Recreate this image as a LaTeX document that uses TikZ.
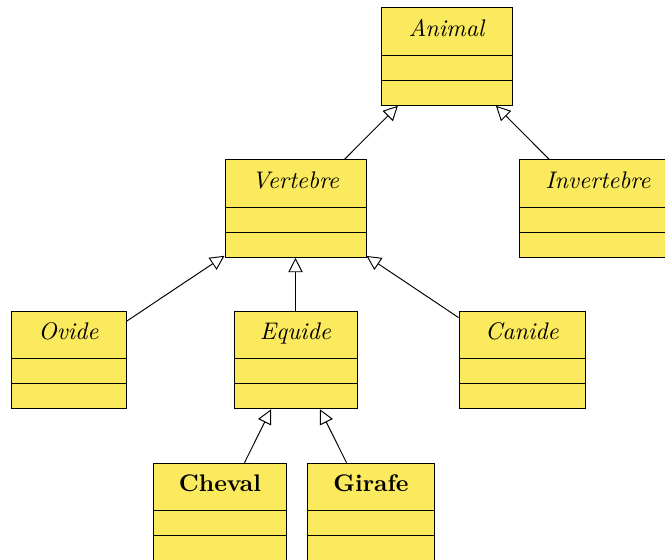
\documentclass[tikz,border=0pt]{standalone}
\usepackage{tikz}
\usetikzlibrary{shapes.multipart,arrows.meta}

\definecolor{classfill}{RGB}{252,234,94}
\newcommand{\classname}[1]{\rule[-7.8pt]{0pt}{19.5pt}#1}
\newcommand{\emptypart}{\rule{0pt}{10pt}}
\tikzset{
  umlclass/.style={draw, fill=classfill, rectangle split, rectangle split parts=3,
    inner xsep=0pt, inner ysep=0pt},
  inherit/.style={draw, -{Triangle[open,length=6pt,width=6pt]}}
}

\begin{document}
\begin{tikzpicture}[x=0.41667pt,y=-0.41667pt]
\useasboundingbox (0,0) rectangle (665,559);

\node[umlclass, minimum width=54.2pt] (animal) at (447,56.5)
  {\classname{\textit{Animal}} \nodepart{second}\emptypart \nodepart{third}\emptypart};
\node[umlclass, minimum width=58.75pt] (vertebre) at (295.5,208.5)
  {\classname{\textit{Vertebre}} \nodepart{second}\emptypart \nodepart{third}\emptypart};
\node[umlclass, minimum width=65.8pt] (invertebre) at (598,208.5)
  {\classname{\textit{Invertebre}} \nodepart{second}\emptypart \nodepart{third}\emptypart};
\node[umlclass, minimum width=47.9pt] (ovide) at (68.5,360)
  {\classname{\textit{Ovide}} \nodepart{second}\emptypart \nodepart{third}\emptypart};
\node[umlclass, minimum width=51.25pt] (equide) at (295.5,360)
  {\classname{\textit{Equide}} \nodepart{second}\emptypart \nodepart{third}\emptypart};
\node[umlclass, minimum width=52.5pt] (canide) at (522,360)
  {\classname{\textit{Canide}} \nodepart{second}\emptypart \nodepart{third}\emptypart};
\node[umlclass, minimum width=55.8pt] (cheval) at (220,512)
  {\classname{\textbf{Cheval}} \nodepart{second}\emptypart \nodepart{third}\emptypart};
\node[umlclass, minimum width=53.3pt] (girafe) at (371,512)
  {\classname{\textbf{Girafe}} \nodepart{second}\emptypart \nodepart{third}\emptypart};

\path[inherit] (vertebre) -- (animal);
\path[inherit] (invertebre) -- (animal);
\path[inherit] (ovide) -- (vertebre);
\path[inherit] (equide) -- (vertebre);
\path[inherit] (canide) -- (vertebre);
\path[inherit] (cheval) -- (equide);
\path[inherit] (girafe) -- (equide);
\end{tikzpicture}
\end{document}
